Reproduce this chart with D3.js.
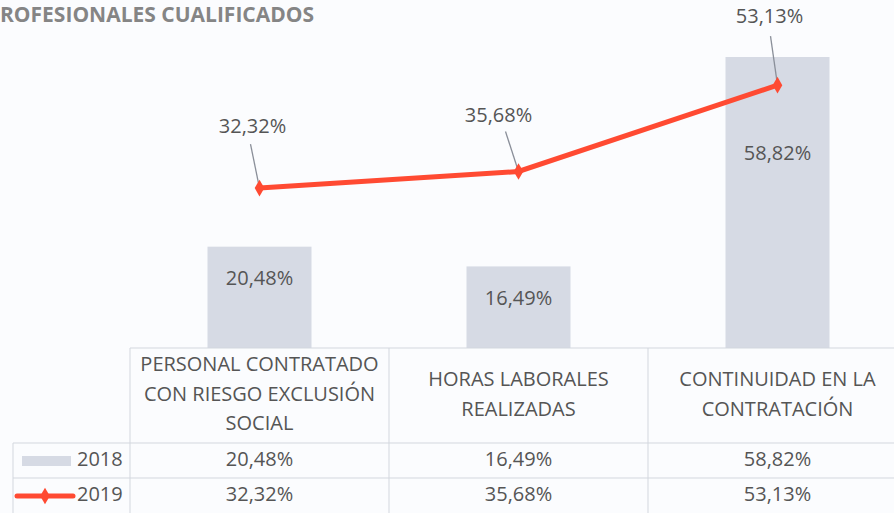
<!DOCTYPE html>
<html><head><meta charset="utf-8">
<script src="https://cdn.jsdelivr.net/npm/d3@7"></script>
<style>body{margin:0;background:#fbfcfe}svg{display:block}text{font-family:"Open Sans",Lato,sans-serif}</style>
</head><body><svg id="c" width="894" height="513"></svg>
<script>
const title = "ROFESIONALES CUALIFICADOS";
const categories = [["PERSONAL CONTRATADO","CON RIESGO EXCLUSIÓN","SOCIAL"],["HORAS LABORALES","REALIZADAS"],["CONTINUIDAD EN LA","CONTRATACIÓN"]];
const series2018 = [20.48, 16.49, 58.82];
const series2019 = [32.32, 35.68, 53.13];
const seriesNames = ["2018","2019"];
const fmt = v => v.toFixed(2).replace(".", ",") + "%";

const svg = d3.select("#c");
const W = 894, H = 513;
const baseY = 348;
const x = d3.scaleBand().domain(d3.range(3)).range([130, 130 + 259*3]).paddingInner(0).paddingOuter(0);
const y = d3.scaleLinear().domain([0, 58.82]).range([baseY, 57]);
const barW = 104;
const gray = "#d6dae4", red = "#ff4a32", textC = "#555", gridC = "#d3d7de";

svg.append("rect").attr("width", W).attr("height", H).attr("fill", "#fbfcfe");
svg.append("text").attr("x", 0).attr("y", 22).text(title)
  .attr("font-size", 21).attr("font-weight", "bold").attr("fill", "#858585");

// bars
svg.selectAll(".bar").data(series2018).join("rect")
  .attr("x", (d,i) => x(i) + x.bandwidth()/2 - barW/2)
  .attr("y", d => y(d)).attr("width", barW).attr("height", d => baseY - y(d))
  .attr("fill", gray);
const barLabelY = [280, 300, 155];
svg.selectAll(".bl").data(series2018).join("text")
  .attr("x", (d,i) => x(i) + x.bandwidth()/2).attr("y", (d,i) => barLabelY[i])
  .attr("text-anchor", "middle").attr("dominant-baseline", "middle")
  .attr("font-size", 20).attr("fill", textC).text(fmt);

// line
const cx = i => x(i) + x.bandwidth()/2;
const lblOff = [[-7, -60, -9, -44], [-20, -55, -13, -40], [-8, -67, -7, -49]];
svg.selectAll(".ll").data(series2019).join("line")
  .attr("x1", (d,i) => cx(i) + lblOff[i][2]).attr("y1", (d,i) => y(d) + lblOff[i][3])
  .attr("x2", (d,i) => cx(i)).attr("y2", d => y(d))
  .attr("stroke", "#8a8f99").attr("stroke-width", 1.3);
svg.append("path").datum(series2019)
  .attr("d", d3.line().x((d,i) => cx(i)).y(d => y(d)))
  .attr("fill", "none").attr("stroke", red).attr("stroke-width", 5);
const diamond = d3.symbol().type(d3.symbolDiamond).size(80);
svg.selectAll(".mk").data(series2019).join("path")
  .attr("transform", (d,i) => `translate(${cx(i)},${y(d)})`).attr("d", diamond).attr("fill", red);
svg.selectAll(".tl").data(series2019).join("text")
  .attr("x", (d,i) => cx(i) + lblOff[i][0]).attr("y", (d,i) => y(d) + lblOff[i][1])
  .attr("text-anchor", "middle").attr("dominant-baseline", "middle")
  .attr("font-size", 20).attr("fill", textC).text(fmt);

// table
const rowTops = [baseY, 443, 478, 513];
const g = svg.append("g").attr("stroke", gridC).attr("stroke-width", 1);
g.append("line").attr("x1", 130).attr("x2", W).attr("y1", baseY).attr("y2", baseY);
g.append("line").attr("x1", 13).attr("x2", W).attr("y1", 443).attr("y2", 443);
g.append("line").attr("x1", 13).attr("x2", W).attr("y1", 478).attr("y2", 478);
g.append("line").attr("x1", 13).attr("x2", 13).attr("y1", 443).attr("y2", H);
[0,1,2].forEach(i => g.append("line").attr("x1", x(i)).attr("x2", x(i)).attr("y1", baseY).attr("y2", H));

categories.forEach((lines, i) => {
  const n = lines.length;
  const mid = (baseY + 443) / 2;
  lines.forEach((t, j) => {
    svg.append("text").attr("x", cx(i)).attr("y", mid + (j - (n-1)/2) * 29.5)
      .attr("text-anchor", "middle").attr("dominant-baseline", "middle")
      .attr("font-size", 20).attr("fill", textC).text(t);
  });
});
[series2018, series2019].forEach((s, r) => {
  const ym = (rowTops[r+1] + rowTops[r+2]) / 2;
  s.forEach((v, i) => svg.append("text").attr("x", cx(i)).attr("y", ym)
    .attr("text-anchor", "middle").attr("dominant-baseline", "middle")
    .attr("font-size", 20).attr("fill", textC).text(fmt(v)));
  svg.append("text").attr("x", 77).attr("y", ym).attr("dominant-baseline", "middle")
    .attr("font-size", 20).attr("fill", textC).text(seriesNames[r]);
});
svg.append("rect").attr("x", 22).attr("y", 456).attr("width", 49).attr("height", 10).attr("fill", gray);
svg.append("line").attr("x1", 17).attr("x2", 73).attr("y1", 496).attr("y2", 496)
  .attr("stroke", red).attr("stroke-width", 5).attr("stroke-linecap", "round");
svg.append("path").attr("transform", "translate(45,496)").attr("d", diamond).attr("fill", red);
</script></body></html>
